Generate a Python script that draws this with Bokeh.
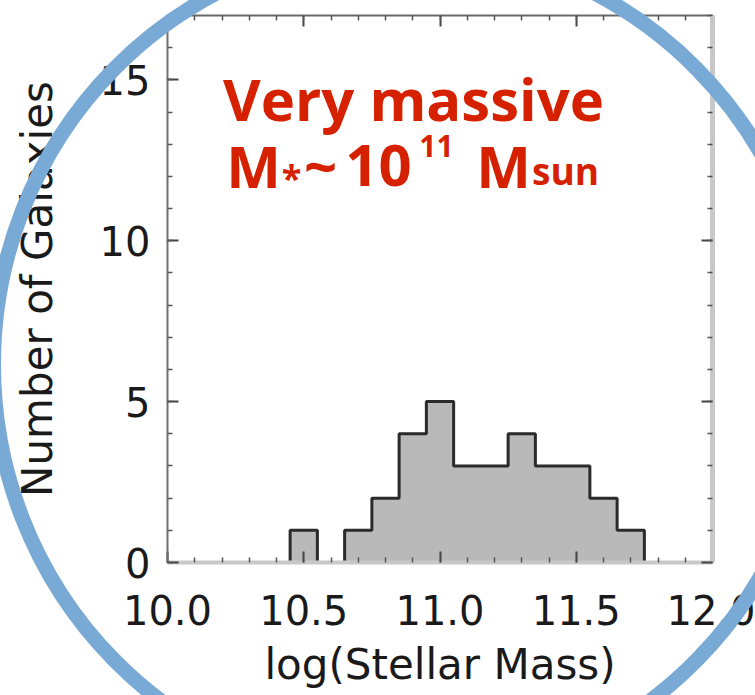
import numpy as np
from bokeh.plotting import figure
from bokeh.models import LinearAxis, FixedTicker, Range1d, Label
from bokeh.embed import file_html
from bokeh.resources import INLINE

# Stellar-mass histogram: 0.1 dex bins (centres in log M*), galaxy counts per bin
bin_centers = [10.4, 10.5, 10.6, 10.7, 10.8, 10.9, 11.0, 11.1, 11.2, 11.3, 11.4, 11.5, 11.6, 11.7, 11.8]
counts = [0, 1, 0, 1, 2, 4, 5, 3, 3, 4, 3, 3, 2, 1, 0]
BIN_WIDTH = 0.1

x_ticks = [10.0, 10.5, 11.0, 11.5, 12.0]
x_tick_labels = ["10.0", "10.5", "11.0", "11.5", "12.0"]
y_ticks = [0, 5, 10, 15]
y_tick_labels = ["0", "5", "10", "15"]
x_minor_ticks = [round(10.0 + 0.1 * i, 1) for i in range(21)]
y_minor_ticks = list(range(0, 18))

x_title = "log(Stellar Mass)"
y_title = "Number of Galaxies"

X_LO, X_HI = 10.0, 12.0
Y_LO, Y_HI = 0.0, 17.0

# page size and where the axes box sits on it (pixels)
W, H = 755, 695
FRAME_L, FRAME_R, FRAME_T, FRAME_B = 167, 712, 15, 562

ux = (X_HI - X_LO) / (FRAME_R - FRAME_L)
uy = (Y_HI - Y_LO) / (FRAME_B - FRAME_T)


def sx(px):
    return X_LO + (px - FRAME_L) * ux


def sy(py):
    return Y_LO + (FRAME_B - py) * uy


p = figure(width=W, height=H,
           x_range=Range1d(sx(0), sx(W)), y_range=Range1d(sy(H), sy(0)),
           output_backend="svg", toolbar_location=None,
           x_axis_location=None, y_axis_location=None,
           min_border=0, outline_line_color=None,
           background_fill_color="white", border_fill_color="white")
p.grid.visible = False

# filled histogram plus its stepped outline
FILL = "#b9b9b9"
lefts = [c - BIN_WIDTH / 2 for c in bin_centers]
rights = [c + BIN_WIDTH / 2 for c in bin_centers]
p.quad(left=lefts, right=rights, bottom=0, top=counts,
       fill_color=FILL, line_color=FILL, line_width=1)
p.step(x=bin_centers, y=counts, mode="center",
       line_color="#2b2b2b", line_width=3)

TEXT_FONT = "DejaVu Sans"


def frame_axis(loc, fixed, bounds, ticks, minor, labels, line_color, line_width, show_labels):
    ax = LinearAxis(fixed_location=fixed, bounds=bounds,
                    ticker=FixedTicker(ticks=ticks, minor_ticks=minor))
    ax.axis_line_color = line_color
    ax.axis_line_width = line_width
    ax.major_tick_in = 11
    ax.major_tick_out = 0
    ax.minor_tick_in = 5
    ax.minor_tick_out = 0
    ax.major_tick_line_color = "#444444"
    ax.major_tick_line_width = 2
    ax.minor_tick_line_color = "#555555"
    ax.minor_tick_line_width = 1.5
    if show_labels:
        ax.major_label_overrides = {t: l for t, l in zip(ticks, labels)}
        ax.major_label_text_font = TEXT_FONT
        ax.major_label_text_font_size = "40px"
        ax.major_label_text_color = "#1a1a1a"
    else:
        ax.major_label_text_color = None
    p.add_layout(ax, loc)
    return ax


left = frame_axis("left", X_LO, (Y_LO, Y_HI), y_ticks, y_minor_ticks, y_tick_labels, "#707070", 2, True)
bottom = frame_axis("below", Y_LO, (X_LO, X_HI), x_ticks, x_minor_ticks, x_tick_labels, "#c8c8c8", 4, True)
top = frame_axis("above", Y_HI, (X_LO, X_HI), x_ticks, x_minor_ticks, x_tick_labels, "#6a6a6a", 2, False)
right = frame_axis("right", X_HI, (Y_LO, Y_HI), y_ticks, y_minor_ticks, y_tick_labels, "#c8c8c8", 5, False)

left.major_label_standoff = 17
left.axis_label = y_title
left.axis_label_standoff = 35
bottom.major_label_standoff = 32
bottom.axis_label = x_title
bottom.axis_label_standoff = 12
for ax in (left, bottom):
    ax.axis_label_text_font = TEXT_FONT
    ax.axis_label_text_font_size = "42px"
    ax.axis_label_text_font_style = "normal"
    ax.axis_label_text_color = "#1a1a1a"

# red caption: "Very massive" / M* ~ 10^11 Msun
RED = "#d62100"
CAP_FONT = "Open Sans"


def caption(text, px, py, size, align="center"):
    p.add_layout(Label(x=sx(px), y=sy(py), text=text, text_font=CAP_FONT,
                       text_font_size=f"{size}px", text_font_style="bold",
                       text_color=RED, text_align=align, text_baseline="alphabetic"))


caption("Very massive", 413, 98, 58)
caption("M", 253, 165, 58)
caption("*", 291, 177, 36)
caption("~", 320, 165, 58)
caption("10", 378, 165, 58)
caption("11", 436, 145, 30)
caption("M", 503, 165, 58)
caption("sun", 565, 170, 37)

# blue ring drawn over everything
p.ellipse(x=[sx(405)], y=[sy(364)], width=824, height=836,
          width_units="screen", height_units="screen",
          fill_color=None, line_color="#79aad6", line_width=15, level="overlay")

open("out.html", "w").write(file_html(p, INLINE))
